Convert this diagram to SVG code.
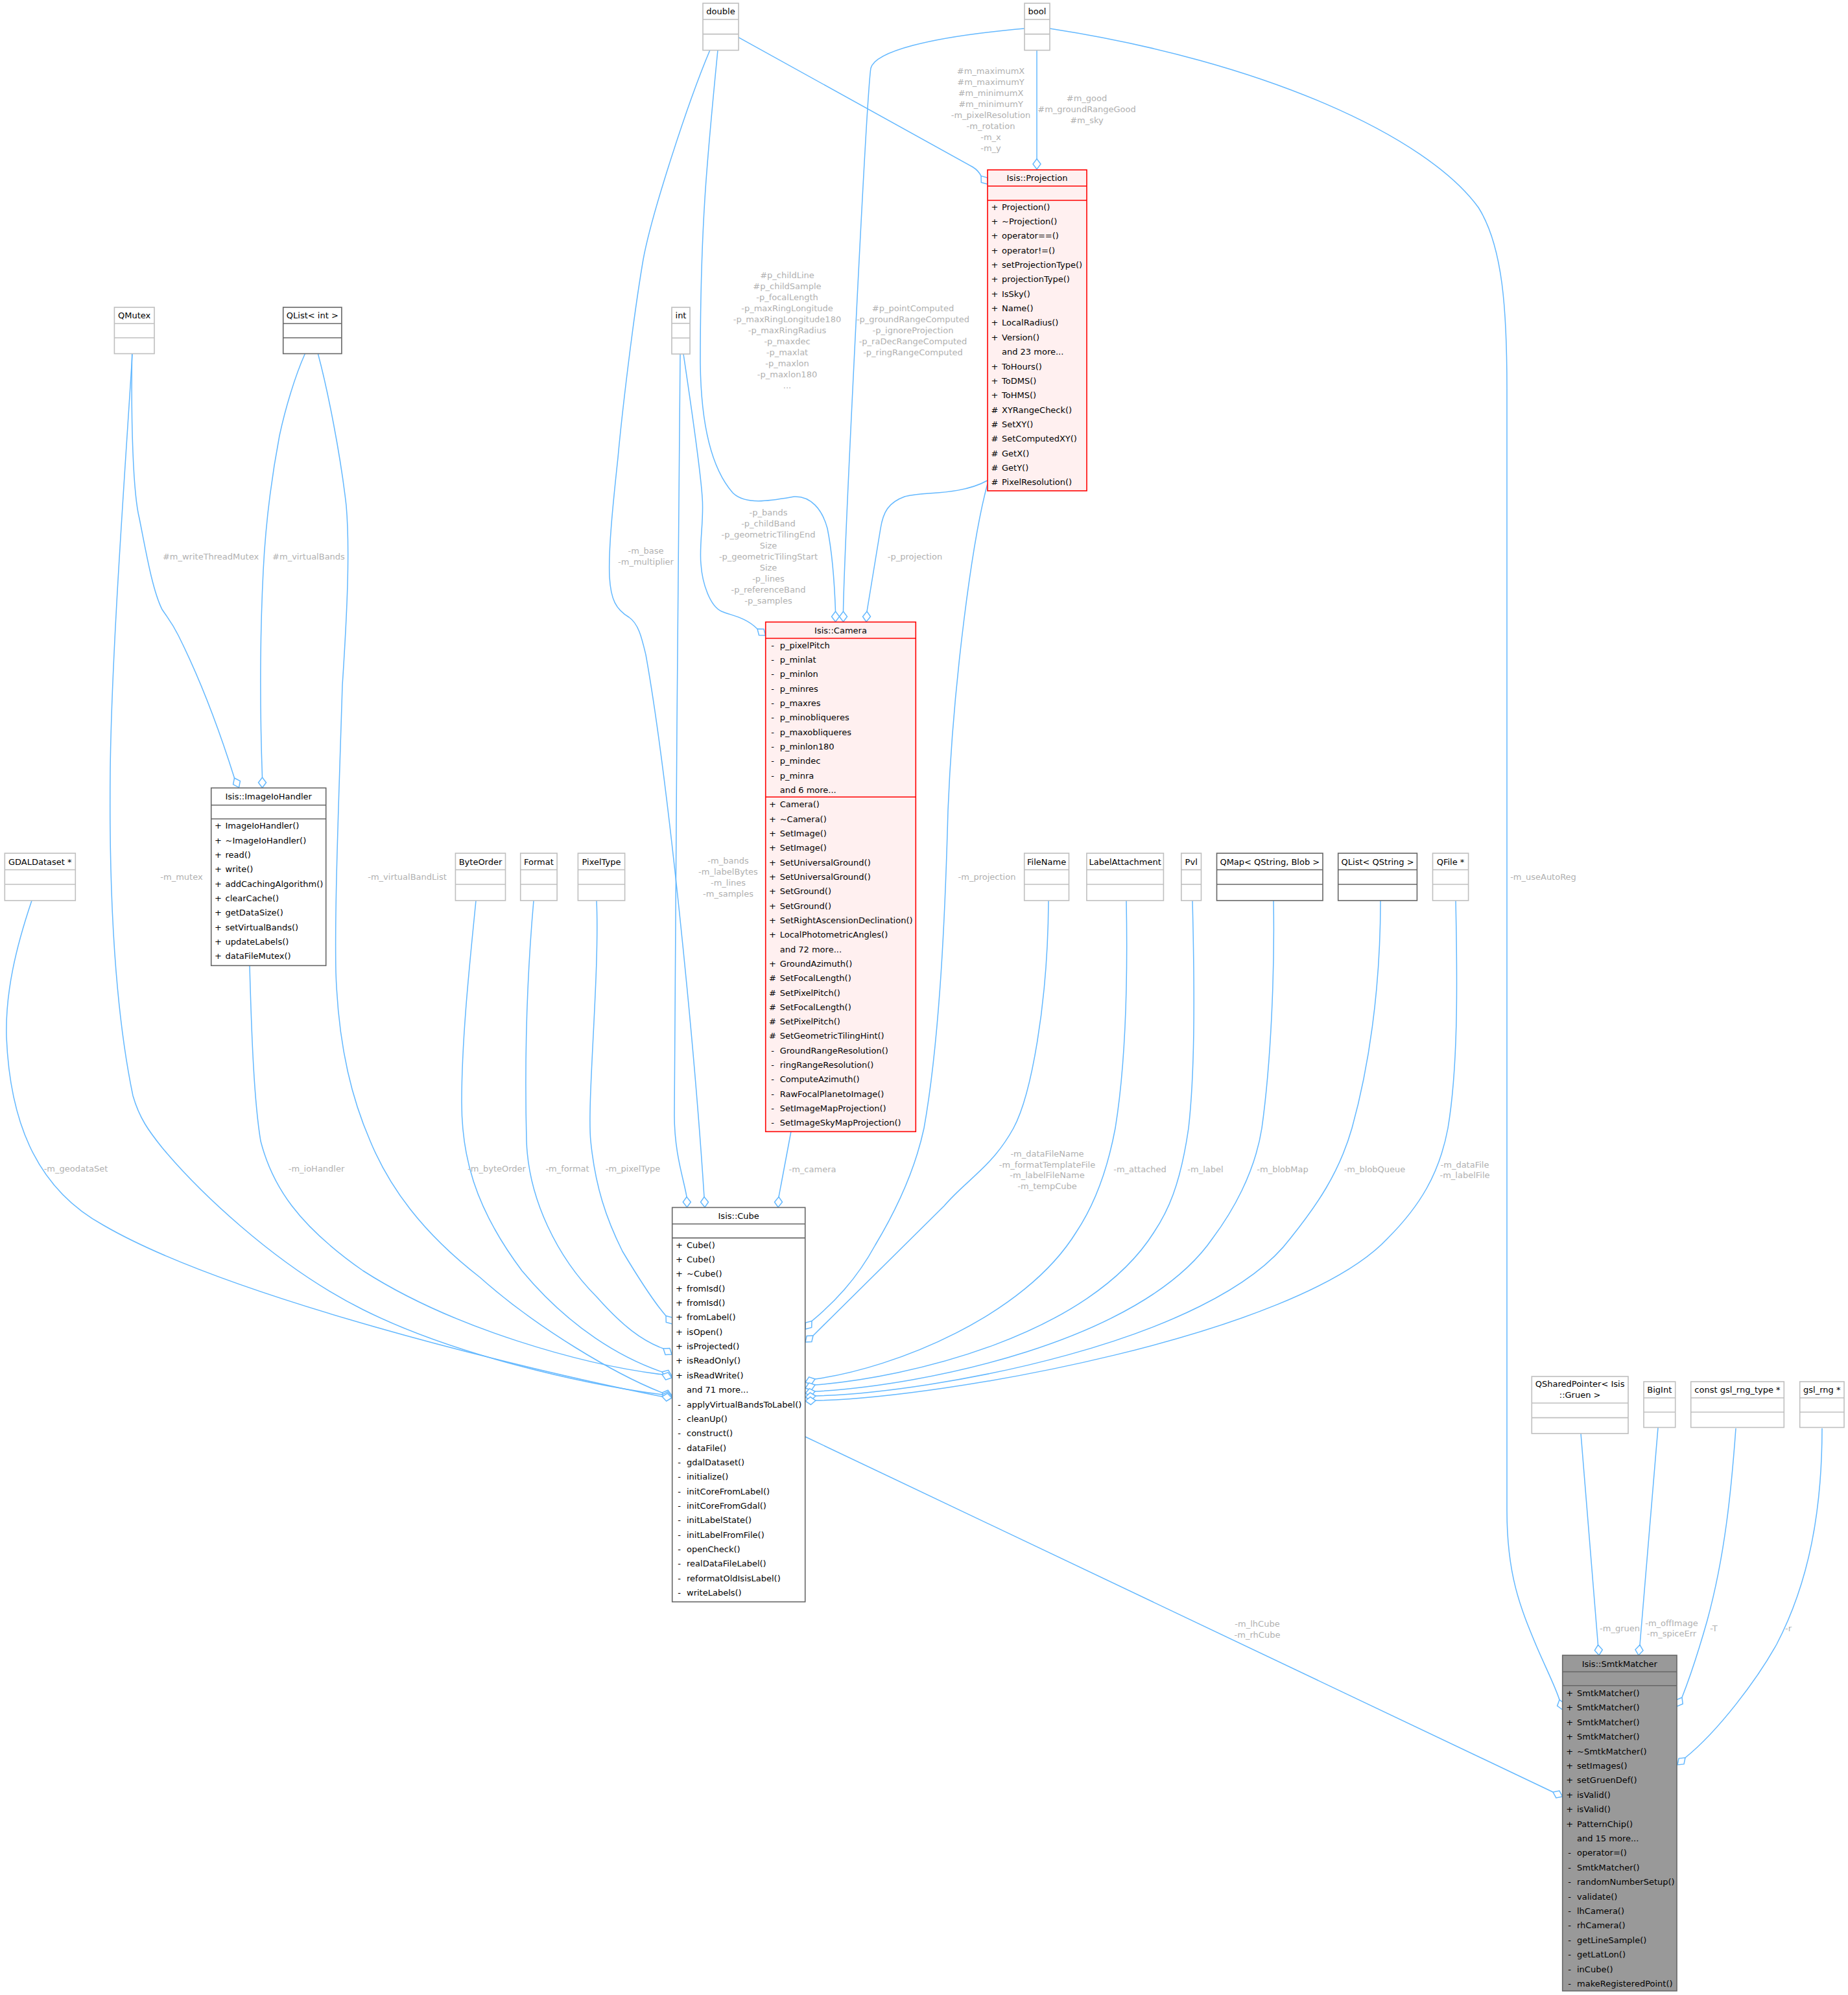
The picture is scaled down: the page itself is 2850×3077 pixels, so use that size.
<svg xmlns="http://www.w3.org/2000/svg" width="2850" height="3077" viewBox="0 0 2850 3077">
<style>
text{font-family:"DejaVu Sans","Liberation Sans",sans-serif;font-size:13px;fill:#000}
.box{fill:#fff;stroke:#bfbfbf;stroke-width:1.6}
.sep{stroke:#bfbfbf;stroke-width:1.6}
.dk .box,.dk .sep{stroke:#666}
.rd .box{fill:#fff0f0;stroke:#f00}
.rd .sep{stroke:#f00}
.gy .box{fill:#999;stroke:#666}
.gy .sep{stroke:#666}
.c{text-anchor:middle}
.e path{fill:none;stroke:#63b8ff;stroke-width:1.5}
.e polygon{fill:#fff;stroke:#63b8ff;stroke-width:1.5}
.l text{fill:#b0b0b0;text-anchor:middle}
</style>
<rect width="2850" height="3077" fill="#fff"/>
<g id="connectors" class="e">
<!-- double -> Projection -->
<path d="M1138.5,57.3 L1500,257.5 Q1509,263 1513,271.4"/>
<polygon points="1523,284 1513.3,281.4 1513,271.4 1522.7,274"/>
<!-- bool -> Projection -->
<path d="M1599,77 L1599,245"/>
<polygon points="1599,261 1593,253 1599,245 1605,253"/>
<!-- bool -> Camera -->
<path d="M1580,44 C1430,57 1350,80 1343,105 C1336,150 1302,850 1300.5,943"/>
<polygon points="1300.5,959 1294.5,951 1300.5,943 1306.5,951"/>
<!-- double -> Camera -->
<path d="M1107,77 C1090,250 1080,350 1080,560 C1081,650 1095,720 1130,760 C1150,780 1190,772 1225,766 C1250,765 1268,785 1276,815 C1283,850 1287,900 1288.5,943"/>
<polygon points="1288.5,959 1282.5,951 1288.5,943 1294.5,951"/>
<!-- int -> Camera -->
<path d="M1054,546 C1065,620 1080,720 1083,767 C1086,800 1078,840 1081,870 C1083,900 1095,935 1113,943 C1130,950 1150,952 1168,970"/>
<polygon points="1180.5,980 1170.5,979.7 1168,970 1178,970.3"/>
<!-- Projection -> Camera -->
<path d="M1523,741 C1480,765 1420,758 1395,766 C1370,775 1362,790 1358,815 L1337,943"/>
<polygon points="1336,959 1330.5,951 1337,943 1342.5,951"/>
<!-- double -> Cube -->
<path d="M1095,77 C1060,160 1005,330 992,400 C975,500 958,650 953,706 C945,780 938,850 940,890 C942,925 950,940 970,952 C985,962 990,985 996,1010 C1030,1200 1070,1600 1086,1846"/>
<polygon points="1087,1862 1080.5,1854 1086,1846 1092.5,1854"/>
<!-- int -> Cube -->
<path d="M1049,546 C1047,800 1040,1500 1040,1720 C1040,1780 1055,1820 1059,1846"/>
<polygon points="1059.5,1862 1053.3,1854 1059,1846 1065.3,1854"/>
<!-- Camera -> Cube -->
<path d="M1220,1745 L1201,1846"/>
<polygon points="1200,1862 1194.5,1854 1201,1846 1206.5,1854"/>
<!-- Projection -> Cube -->
<path d="M1523,746 C1500,830 1470,1050 1462,1250 C1458,1400 1450,1600 1425,1740 C1410,1810 1380,1870 1350,1920 C1320,1975 1285,2010 1252,2037.5"/>
<polygon points="1242,2050 1242.3,2040 1252,2037.5 1251.7,2047.5"/>
<!-- FileName -> Cube -->
<path d="M1617,1389 C1616,1550 1590,1690 1563,1740 C1530,1800 1490,1820 1456,1860 L1254,2060"/>
<polygon points="1242,2070 1244.2,2060.4 1254,2060 1251.8,2069.6"/>
<!-- LabelAttachment -> Cube -->
<path d="M1737,1389 C1740,1550 1733,1660 1720,1740 C1705,1820 1680,1870 1660,1900 C1580,2030 1380,2110 1257,2127"/>
<polygon points="1242,2132 1247.6,2123.8 1257,2127 1251.4,2135.2"/>
<!-- Pvl -> Cube -->
<path d="M1839,1389 C1843,1550 1842,1660 1833,1740 C1820,1830 1800,1870 1780,1900 C1680,2060 1400,2125 1257,2136"/>
<polygon points="1242,2141 1247.6,2132.8 1257,2136 1251.4,2144.2"/>
<!-- QMap -> Cube -->
<path d="M1964,1389 C1966,1500 1960,1640 1946,1740 C1935,1810 1900,1870 1870,1910 C1760,2070 1420,2138 1257,2146"/>
<polygon points="1242,2149 1248.3,2141.6 1257,2146 1250.7,2153.4"/>
<!-- QList<QString> -> Cube -->
<path d="M2129,1389 C2129,1530 2110,1650 2085,1740 C2065,1810 2030,1860 1990,1910 C1870,2070 1440,2148 1258,2153"/>
<polygon points="1242,2155 1249.3,2148 1258,2153 1250.7,2160"/>
<!-- QFile -> Cube -->
<path d="M2245,1389 C2248,1530 2248,1650 2233,1740 C2220,1810 2190,1860 2140,1910 C2000,2060 1450,2157 1258,2160"/>
<polygon points="1242,2161 1249.6,2154.5 1258,2160 1250.4,2166.5"/>
<!-- PixelType -> Cube -->
<path d="M920,1389 C925,1500 905,1700 911,1760 C918,1830 935,1880 960,1930 C990,1980 1010,2010 1027,2029.5"/>
<polygon points="1037,2042 1027.3,2039.5 1027,2029.5 1036.7,2032"/>
<!-- Format -> Cube -->
<path d="M823,1389 C815,1480 808,1600 812,1760 C815,1850 860,1940 920,2000 C960,2045 990,2068 1023,2080"/>
<polygon points="1036,2089 1026.1,2089.4 1023,2080 1032.9,2079.6"/>
<!-- ByteOrder -> Cube -->
<path d="M734,1389 C725,1480 712,1600 712,1700 C712,1780 730,1860 805,1960 C880,2050 960,2095 1021,2116"/>
<polygon points="1036,2122 1026.3,2124.6 1021,2116 1030.7,2113.4"/>
<!-- ImageIoHandler -> Cube -->
<path d="M385,1489 C388,1600 392,1700 402,1760 C420,1830 460,1890 560,1960 C700,2050 900,2105 1021,2120"/>
<polygon points="1036,2125 1026.6,2128.2 1021,2120 1030.4,2116.8"/>
<!-- QList<int> -> Cube -->
<path d="M490.5,546 C505,600 525,700 534,780 C540,850 535,950 528,1057 C522,1250 516,1400 518,1500 C522,1620 545,1700 571,1760 C600,1830 650,1900 740,1970 C830,2050 950,2120 1021,2148"/>
<polygon points="1036,2152 1027,2155.8 1021,2148 1030,2144.2"/>
<!-- QMutex -> Cube -->
<path d="M204,546 C195,700 172,1000 170,1190 C168,1380 178,1560 205,1690 C215,1725 230,1745 250,1770 C300,1830 420,1950 560,2020 C700,2090 900,2135 1021,2151"/>
<polygon points="1036,2154 1027.3,2158.4 1021,2151 1029.7,2146.6"/>
<!-- GDALDataset -> Cube -->
<path d="M49,1389 C25,1460 8,1530 10,1600 C15,1720 50,1830 160,1890 C350,2000 800,2110 1021,2154"/>
<polygon points="1036,2156 1027.7,2161 1021,2154 1029.3,2149"/>
<!-- QMutex -> ImageIoHandler -->
<path d="M203.6,546 C202,650 205,760 215,800 C225,850 235,910 250,940 C260,955 265,960 275,980 C300,1030 330,1100 361.5,1200"/>
<polygon points="368.5,1214.6 359.6,1209.9 361.5,1200 370.4,1204.7"/>
<!-- QList<int> -> ImageIoHandler -->
<path d="M470.2,546 C455,580 440,630 431,672 C420,730 410,800 406,880 C401,980 401,1100 404.5,1199"/>
<polygon points="404.5,1215 398.5,1207 404.5,1199 410.5,1207"/>
<!-- Cube -> SmtkMatcher -->
<path d="M1242,2216 L2395,2764"/>
<polygon points="2409.7,2771 2399.8,2772.9 2395,2764 2404.9,2762.1"/>
<!-- bool -> SmtkMatcher -->
<path d="M1619,44 C1950,95 2200,210 2280,320 C2318,380 2324,480 2324,600 L2324,2330 C2324,2430 2345,2480 2370,2540 C2385,2575 2398,2600 2405,2621.7"/>
<polygon points="2409.7,2637 2401.6,2631.1 2405,2621.7 2413.1,2627.6"/>
<!-- QSharedPointer -> SmtkMatcher -->
<path d="M2438,2211 L2464.5,2537"/>
<polygon points="2466,2553 2459.3,2545.5 2464.5,2537 2471.3,2544.5"/>
<!-- BigInt -> SmtkMatcher -->
<path d="M2557,2202 L2529,2537"/>
<polygon points="2527,2553 2522,2544.3 2529,2537 2534,2545.7"/>
<!-- const gsl_rng_type -> SmtkMatcher -->
<path d="M2677,2203 C2670,2300 2660,2400 2633,2499 C2620,2545 2605,2590 2594,2618"/>
<polygon points="2586,2632 2584.8,2622 2594,2618 2595.2,2628"/>
<!-- gsl_rng -> SmtkMatcher -->
<path d="M2810,2203 C2810,2330 2790,2440 2740,2536 C2710,2590 2650,2670 2599,2711"/>
<polygon points="2587,2722 2589,2712.1 2599,2711 2597,2720.9"/>
</g>
<g id="labels" class="l">
<text x="1528" y="114">#m_maximumX</text><text x="1528" y="131">#m_maximumY</text><text x="1528" y="148">#m_minimumX</text><text x="1528" y="165">#m_minimumY</text><text x="1528" y="182">-m_pixelResolution</text><text x="1528" y="199">-m_rotation</text><text x="1528" y="216">-m_x</text><text x="1528" y="233">-m_y</text>
<text x="1676" y="156">#m_good</text><text x="1676" y="173">#m_groundRangeGood</text><text x="1676" y="190">#m_sky</text>
<text x="1214" y="429">#p_childLine</text><text x="1214" y="446">#p_childSample</text><text x="1214" y="463">-p_focalLength</text><text x="1214" y="480">-p_maxRingLongitude</text><text x="1214" y="497">-p_maxRingLongitude180</text><text x="1214" y="514">-p_maxRingRadius</text><text x="1214" y="531">-p_maxdec</text><text x="1214" y="548">-p_maxlat</text><text x="1214" y="565">-p_maxlon</text><text x="1214" y="582">-p_maxlon180</text><text x="1214" y="599">...</text>
<text x="1408" y="480">#p_pointComputed</text><text x="1408" y="497">-p_groundRangeComputed</text><text x="1408" y="514">-p_ignoreProjection</text><text x="1408" y="531">-p_raDecRangeComputed</text><text x="1408" y="548">-p_ringRangeComputed</text>
<text x="1185" y="795">-p_bands</text><text x="1185" y="812">-p_childBand</text><text x="1185" y="829">-p_geometricTilingEnd</text><text x="1185" y="846">Size</text><text x="1185" y="863">-p_geometricTilingStart</text><text x="1185" y="880">Size</text><text x="1185" y="897">-p_lines</text><text x="1185" y="914">-p_referenceBand</text><text x="1185" y="931">-p_samples</text>
<text x="1411" y="863">-p_projection</text>
<text x="996" y="854">-m_base</text><text x="996" y="871">-m_multiplier</text>
<text x="325" y="863">#m_writeThreadMutex</text>
<text x="476" y="863">#m_virtualBands</text>
<text x="280" y="1357">-m_mutex</text>
<text x="628" y="1357">-m_virtualBandList</text>
<text x="1123" y="1332">-m_bands</text><text x="1123" y="1349">-m_labelBytes</text><text x="1123" y="1366">-m_lines</text><text x="1123" y="1383">-m_samples</text>
<text x="1522" y="1357">-m_projection</text>
<text x="2380" y="1357">-m_useAutoReg</text>
<text x="117" y="1807">-m_geodataSet</text>
<text x="488" y="1807">-m_ioHandler</text>
<text x="766" y="1807">-m_byteOrder</text>
<text x="875" y="1807">-m_format</text>
<text x="976" y="1807">-m_pixelType</text>
<text x="1253" y="1808">-m_camera</text>
<text x="1615" y="1784">-m_dataFileName</text><text x="1615" y="1801">-m_formatTemplateFile</text><text x="1615" y="1817">-m_labelFileName</text><text x="1615" y="1834">-m_tempCube</text>
<text x="1758" y="1808">-m_attached</text>
<text x="1859" y="1808">-m_label</text>
<text x="1978" y="1808">-m_blobMap</text>
<text x="2120" y="1808">-m_blobQueue</text>
<text x="2259" y="1801">-m_dataFile</text><text x="2259" y="1817">-m_labelFile</text>
<text x="1939" y="2509">-m_lhCube</text><text x="1939" y="2526">-m_rhCube</text>
<text x="2498" y="2516">-m_gruen</text>
<text x="2578" y="2508">-m_offImage</text><text x="2578" y="2524">-m_spiceErr</text>
<text x="2643" y="2516">-T</text>
<text x="2758" y="2516">-r</text>
</g>
<g id="double"><rect class="box" x="1084" y="5" width="55" height="72.5"/><line class="sep" x1="1084" y1="30" x2="1139" y2="30"/><line class="sep" x1="1084" y1="52.6" x2="1139" y2="52.6"/><text class="c" x="1111.5" y="22">double</text></g>
<g id="bool"><rect class="box" x="1580" y="5" width="39" height="72.5"/><line class="sep" x1="1580" y1="30" x2="1619" y2="30"/><line class="sep" x1="1580" y1="52.6" x2="1619" y2="52.6"/><text class="c" x="1599.5" y="22">bool</text></g>
<g id="QMutex"><rect class="box" x="176.4" y="474" width="61.6" height="71.5"/><line class="sep" x1="176.4" y1="499" x2="238" y2="499"/><line class="sep" x1="176.4" y1="521" x2="238" y2="521"/><text class="c" x="207.2" y="491">QMutex</text></g>
<g id="QList_int" class="dk"><rect class="box" x="436.7" y="474" width="90.2" height="71.5"/><line class="sep" x1="436.7" y1="499" x2="526.9" y2="499"/><line class="sep" x1="436.7" y1="521" x2="526.9" y2="521"/><text class="c" x="481.8" y="491">QList&lt; int &gt;</text></g>
<g id="int"><rect class="box" x="1036" y="474" width="28" height="72"/><line class="sep" x1="1036" y1="498.7" x2="1064" y2="498.7"/><line class="sep" x1="1036" y1="521.3" x2="1064" y2="521.3"/><text class="c" x="1050" y="491">int</text></g>
<g id="GDALDataset"><rect class="box" x="7.3" y="1316" width="109" height="73"/><line class="sep" x1="7.3" y1="1341.5" x2="116.3" y2="1341.5"/><line class="sep" x1="7.3" y1="1364" x2="116.3" y2="1364"/><text class="c" x="61.8" y="1333.5">GDALDataset *</text></g>
<g id="ByteOrder"><rect class="box" x="702.4" y="1316" width="77.1" height="73"/><line class="sep" x1="702.4" y1="1341.5" x2="779.5" y2="1341.5"/><line class="sep" x1="702.4" y1="1364" x2="779.5" y2="1364"/><text class="c" x="741" y="1333.5">ByteOrder</text></g>
<g id="Format"><rect class="box" x="802.7" y="1316" width="56.4" height="73"/><line class="sep" x1="802.7" y1="1341.5" x2="859.1" y2="1341.5"/><line class="sep" x1="802.7" y1="1364" x2="859.1" y2="1364"/><text class="c" x="830.9" y="1333.5">Format</text></g>
<g id="PixelType"><rect class="box" x="891.4" y="1316" width="72.2" height="73"/><line class="sep" x1="891.4" y1="1341.5" x2="963.6" y2="1341.5"/><line class="sep" x1="891.4" y1="1364" x2="963.6" y2="1364"/><text class="c" x="927.5" y="1333.5">PixelType</text></g>
<g id="FileName"><rect class="box" x="1579.7" y="1316" width="68.8" height="73"/><line class="sep" x1="1579.7" y1="1341.5" x2="1648.5" y2="1341.5"/><line class="sep" x1="1579.7" y1="1364" x2="1648.5" y2="1364"/><text class="c" x="1614.1" y="1333.5">FileName</text></g>
<g id="LabelAttachment"><rect class="box" x="1675.9" y="1316" width="118.5" height="73"/><line class="sep" x1="1675.9" y1="1341.5" x2="1794.4" y2="1341.5"/><line class="sep" x1="1675.9" y1="1364" x2="1794.4" y2="1364"/><text class="c" x="1735.2" y="1333.5">LabelAttachment</text></g>
<g id="Pvl"><rect class="box" x="1821.8" y="1316" width="30.7" height="73"/><line class="sep" x1="1821.8" y1="1341.5" x2="1852.5" y2="1341.5"/><line class="sep" x1="1821.8" y1="1364" x2="1852.5" y2="1364"/><text class="c" x="1837.2" y="1333.5">Pvl</text></g>
<g id="QMap" class="dk"><rect class="box" x="1876.5" y="1316" width="163.5" height="73"/><line class="sep" x1="1876.5" y1="1341.5" x2="2040" y2="1341.5"/><line class="sep" x1="1876.5" y1="1364" x2="2040" y2="1364"/><text class="c" x="1958.3" y="1333.5">QMap&lt; QString, Blob &gt;</text></g>
<g id="QList_QString" class="dk"><rect class="box" x="2063.7" y="1316" width="121.7" height="73"/><line class="sep" x1="2063.7" y1="1341.5" x2="2185.4" y2="1341.5"/><line class="sep" x1="2063.7" y1="1364" x2="2185.4" y2="1364"/><text class="c" x="2124.6" y="1333.5">QList&lt; QString &gt;</text></g>
<g id="QFile"><rect class="box" x="2209.5" y="1316" width="55.1" height="73"/><line class="sep" x1="2209.5" y1="1341.5" x2="2264.6" y2="1341.5"/><line class="sep" x1="2209.5" y1="1364" x2="2264.6" y2="1364"/><text class="c" x="2237" y="1333.5">QFile *</text></g>
<g id="QSharedPointer"><rect class="box" x="2362.3" y="2123" width="148.7" height="88"/><line class="sep" x1="2362.3" y1="2164" x2="2511" y2="2164"/><line class="sep" x1="2362.3" y1="2186.6" x2="2511" y2="2186.6"/><text class="c" x="2436.6" y="2139">QSharedPointer&lt; Isis</text><text class="c" x="2436.6" y="2156.4">::Gruen &gt;</text></g>
<g id="BigInt"><rect class="box" x="2535" y="2131" width="48.7" height="70.6"/><line class="sep" x1="2535" y1="2156" x2="2583.7" y2="2156"/><line class="sep" x1="2535" y1="2178" x2="2583.7" y2="2178"/><text class="c" x="2559.3" y="2148">BigInt</text></g>
<g id="gsl_rng_type"><rect class="box" x="2607.7" y="2131" width="143.6" height="70.6"/><line class="sep" x1="2607.7" y1="2156" x2="2751.3" y2="2156"/><line class="sep" x1="2607.7" y1="2178" x2="2751.3" y2="2178"/><text class="c" x="2679.5" y="2148">const gsl_rng_type *</text></g>
<g id="gsl_rng"><rect class="box" x="2775.7" y="2131" width="68.3" height="70.6"/><line class="sep" x1="2775.7" y1="2156" x2="2844" y2="2156"/><line class="sep" x1="2775.7" y1="2178" x2="2844" y2="2178"/><text class="c" x="2809.8" y="2148">gsl_rng *</text></g>
<g id="Projection" class="rd"><rect class="box" x="1523" y="262" width="153" height="495"/><line class="sep" x1="1523" y1="287" x2="1676" y2="287"/><line class="sep" x1="1523" y1="309" x2="1676" y2="309"/>
<text class="c" x="1599.5" y="279">Isis::Projection</text>
<g class="c"><text x="1534" y="323.5">+</text><text x="1534" y="345.9">+</text><text x="1534" y="368.2">+</text><text x="1534" y="390.6">+</text><text x="1534" y="412.9">+</text><text x="1534" y="435.3">+</text><text x="1534" y="457.7">+</text><text x="1534" y="480">+</text><text x="1534" y="502.4">+</text><text x="1534" y="524.7">+</text><text x="1534" y="569.5">+</text><text x="1534" y="591.8">+</text><text x="1534" y="614.2">+</text><text x="1534" y="636.5">#</text><text x="1534" y="658.9">#</text><text x="1534" y="681.3">#</text><text x="1534" y="703.6">#</text><text x="1534" y="726">#</text><text x="1534" y="748.3">#</text></g>
<text x="1545" y="323.5">Projection()</text><text x="1545" y="345.9">~Projection()</text><text x="1545" y="368.2">operator==()</text><text x="1545" y="390.6">operator!=()</text><text x="1545" y="412.9">setProjectionType()</text><text x="1545" y="435.3">projectionType()</text><text x="1545" y="457.7">IsSky()</text><text x="1545" y="480">Name()</text><text x="1545" y="502.4">LocalRadius()</text><text x="1545" y="524.7">Version()</text><text x="1545" y="547.1">and 23 more...</text><text x="1545" y="569.5">ToHours()</text><text x="1545" y="591.8">ToDMS()</text><text x="1545" y="614.2">ToHMS()</text><text x="1545" y="636.5">XYRangeCheck()</text><text x="1545" y="658.9">SetXY()</text><text x="1545" y="681.3">SetComputedXY()</text><text x="1545" y="703.6">GetX()</text><text x="1545" y="726">GetY()</text><text x="1545" y="748.3">PixelResolution()</text>
</g>
<g id="Camera" class="rd"><rect class="box" x="1180.7" y="959.4" width="231.6" height="786"/><line class="sep" x1="1180.7" y1="984.5" x2="1412.3" y2="984.5"/><line class="sep" x1="1180.7" y1="1229.2" x2="1412.3" y2="1229.2"/>
<text class="c" x="1296.5" y="976.5">Isis::Camera</text>
<g class="c"><text x="1191.5" y="999.5">-</text><text x="1191.5" y="1021.8">-</text><text x="1191.5" y="1044.2">-</text><text x="1191.5" y="1066.5">-</text><text x="1191.5" y="1088.8">-</text><text x="1191.5" y="1111.2">-</text><text x="1191.5" y="1133.5">-</text><text x="1191.5" y="1155.8">-</text><text x="1191.5" y="1178.1">-</text><text x="1191.5" y="1200.5">-</text>
<text x="1191.5" y="1245.3">+</text><text x="1191.5" y="1267.6">+</text><text x="1191.5" y="1289.9">+</text><text x="1191.5" y="1312.3">+</text><text x="1191.5" y="1334.6">+</text><text x="1191.5" y="1356.9">+</text><text x="1191.5" y="1379.2">+</text><text x="1191.5" y="1401.5">+</text><text x="1191.5" y="1423.9">+</text><text x="1191.5" y="1446.2">+</text><text x="1191.5" y="1490.8">+</text><text x="1191.5" y="1513.1">#</text><text x="1191.5" y="1535.5">#</text><text x="1191.5" y="1557.8">#</text><text x="1191.5" y="1580.1">#</text><text x="1191.5" y="1602.4">#</text><text x="1191.5" y="1624.7">-</text><text x="1191.5" y="1647.1">-</text><text x="1191.5" y="1669.4">-</text><text x="1191.5" y="1691.7">-</text><text x="1191.5" y="1714">-</text><text x="1191.5" y="1736.3">-</text></g>
<text x="1202.7" y="999.5">p_pixelPitch</text><text x="1202.7" y="1021.8">p_minlat</text><text x="1202.7" y="1044.2">p_minlon</text><text x="1202.7" y="1066.5">p_minres</text><text x="1202.7" y="1088.8">p_maxres</text><text x="1202.7" y="1111.2">p_minobliqueres</text><text x="1202.7" y="1133.5">p_maxobliqueres</text><text x="1202.7" y="1155.8">p_minlon180</text><text x="1202.7" y="1178.1">p_mindec</text><text x="1202.7" y="1200.5">p_minra</text><text x="1202.7" y="1222.8">and 6 more...</text>
<text x="1202.7" y="1245.3">Camera()</text><text x="1202.7" y="1267.6">~Camera()</text><text x="1202.7" y="1289.9">SetImage()</text><text x="1202.7" y="1312.3">SetImage()</text><text x="1202.7" y="1334.6">SetUniversalGround()</text><text x="1202.7" y="1356.9">SetUniversalGround()</text><text x="1202.7" y="1379.2">SetGround()</text><text x="1202.7" y="1401.5">SetGround()</text><text x="1202.7" y="1423.9">SetRightAscensionDeclination()</text><text x="1202.7" y="1446.2">LocalPhotometricAngles()</text><text x="1202.7" y="1468.5">and 72 more...</text><text x="1202.7" y="1490.8">GroundAzimuth()</text><text x="1202.7" y="1513.1">SetFocalLength()</text><text x="1202.7" y="1535.5">SetPixelPitch()</text><text x="1202.7" y="1557.8">SetFocalLength()</text><text x="1202.7" y="1580.1">SetPixelPitch()</text><text x="1202.7" y="1602.4">SetGeometricTilingHint()</text><text x="1202.7" y="1624.7">GroundRangeResolution()</text><text x="1202.7" y="1647.1">ringRangeResolution()</text><text x="1202.7" y="1669.4">ComputeAzimuth()</text><text x="1202.7" y="1691.7">RawFocalPlanetoImage()</text><text x="1202.7" y="1714">SetImageMapProjection()</text><text x="1202.7" y="1736.3">SetImageSkyMapProjection()</text>
</g>
<g id="ImageIoHandler" class="dk"><rect class="box" x="325.7" y="1215.3" width="177" height="274"/><line class="sep" x1="325.7" y1="1241.8" x2="502.7" y2="1241.8"/><line class="sep" x1="325.7" y1="1263" x2="502.7" y2="1263"/>
<text class="c" x="414.2" y="1233">Isis::ImageIoHandler</text>
<g class="c"><text x="336.4" y="1278.3">+</text><text x="336.4" y="1300.6">+</text><text x="336.4" y="1322.9">+</text><text x="336.4" y="1345.3">+</text><text x="336.4" y="1367.6">+</text><text x="336.4" y="1389.9">+</text><text x="336.4" y="1412.2">+</text><text x="336.4" y="1434.5">+</text><text x="336.4" y="1456.9">+</text><text x="336.4" y="1479.2">+</text></g>
<text x="347.5" y="1278.3">ImageIoHandler()</text><text x="347.5" y="1300.6">~ImageIoHandler()</text><text x="347.5" y="1322.9">read()</text><text x="347.5" y="1345.3">write()</text><text x="347.5" y="1367.6">addCachingAlgorithm()</text><text x="347.5" y="1389.9">clearCache()</text><text x="347.5" y="1412.2">getDataSize()</text><text x="347.5" y="1434.5">setVirtualBands()</text><text x="347.5" y="1456.9">updateLabels()</text><text x="347.5" y="1479.2">dataFileMutex()</text>
</g>
<g id="Cube" class="dk"><rect class="box" x="1036.7" y="1862.4" width="205" height="608.2"/><line class="sep" x1="1036.7" y1="1887.8" x2="1241.7" y2="1887.8"/><line class="sep" x1="1036.7" y1="1909.4" x2="1241.7" y2="1909.4"/>
<text class="c" x="1139.2" y="1880">Isis::Cube</text>
<g class="c"><text x="1047.5" y="1924.6">+</text><text x="1047.5" y="1947">+</text><text x="1047.5" y="1969.3">+</text><text x="1047.5" y="1991.7">+</text><text x="1047.5" y="2014">+</text><text x="1047.5" y="2036.4">+</text><text x="1047.5" y="2058.7">+</text><text x="1047.5" y="2081.1">+</text><text x="1047.5" y="2103.4">+</text><text x="1047.5" y="2125.8">+</text><text x="1047.5" y="2170.5">-</text><text x="1047.5" y="2192.8">-</text><text x="1047.5" y="2215.2">-</text><text x="1047.5" y="2237.5">-</text><text x="1047.5" y="2259.9">-</text><text x="1047.5" y="2282.2">-</text><text x="1047.5" y="2304.6">-</text><text x="1047.5" y="2326.9">-</text><text x="1047.5" y="2349.3">-</text><text x="1047.5" y="2371.6">-</text><text x="1047.5" y="2394">-</text><text x="1047.5" y="2416.3">-</text><text x="1047.5" y="2438.7">-</text><text x="1047.5" y="2461">-</text></g>
<text x="1059" y="1924.6">Cube()</text><text x="1059" y="1947">Cube()</text><text x="1059" y="1969.3">~Cube()</text><text x="1059" y="1991.7">fromIsd()</text><text x="1059" y="2014">fromIsd()</text><text x="1059" y="2036.4">fromLabel()</text><text x="1059" y="2058.7">isOpen()</text><text x="1059" y="2081.1">isProjected()</text><text x="1059" y="2103.4">isReadOnly()</text><text x="1059" y="2125.8">isReadWrite()</text><text x="1059" y="2148.1">and 71 more...</text><text x="1059" y="2170.5">applyVirtualBandsToLabel()</text><text x="1059" y="2192.8">cleanUp()</text><text x="1059" y="2215.2">construct()</text><text x="1059" y="2237.5">dataFile()</text><text x="1059" y="2259.9">gdalDataset()</text><text x="1059" y="2282.2">initialize()</text><text x="1059" y="2304.6">initCoreFromLabel()</text><text x="1059" y="2326.9">initCoreFromGdal()</text><text x="1059" y="2349.3">initLabelState()</text><text x="1059" y="2371.6">initLabelFromFile()</text><text x="1059" y="2394">openCheck()</text><text x="1059" y="2416.3">realDataFileLabel()</text><text x="1059" y="2438.7">reformatOldIsisLabel()</text><text x="1059" y="2461">writeLabels()</text>
</g>
<g id="SmtkMatcher" class="gy"><rect class="box" x="2409.7" y="2553" width="176.3" height="517.7"/><line class="sep" x1="2409.7" y1="2578.5" x2="2586" y2="2578.5"/><line class="sep" x1="2409.7" y1="2599.7" x2="2586" y2="2599.7"/>
<text class="c" x="2497.8" y="2570.5">Isis::SmtkMatcher</text>
<g class="c"><text x="2420.7" y="2615.9">+</text><text x="2420.7" y="2638.3">+</text><text x="2420.7" y="2660.7">+</text><text x="2420.7" y="2683.1">+</text><text x="2420.7" y="2705.5">+</text><text x="2420.7" y="2727.9">+</text><text x="2420.7" y="2750.3">+</text><text x="2420.7" y="2772.7">+</text><text x="2420.7" y="2795.1">+</text><text x="2420.7" y="2817.5">+</text><text x="2420.7" y="2862.3">-</text><text x="2420.7" y="2884.7">-</text><text x="2420.7" y="2907.1">-</text><text x="2420.7" y="2929.5">-</text><text x="2420.7" y="2951.9">-</text><text x="2420.7" y="2974.3">-</text><text x="2420.7" y="2996.7">-</text><text x="2420.7" y="3019.1">-</text><text x="2420.7" y="3041.5">-</text><text x="2420.7" y="3063.9">-</text></g>
<text x="2432" y="2615.9">SmtkMatcher()</text><text x="2432" y="2638.3">SmtkMatcher()</text><text x="2432" y="2660.7">SmtkMatcher()</text><text x="2432" y="2683.1">SmtkMatcher()</text><text x="2432" y="2705.5">~SmtkMatcher()</text><text x="2432" y="2727.9">setImages()</text><text x="2432" y="2750.3">setGruenDef()</text><text x="2432" y="2772.7">isValid()</text><text x="2432" y="2795.1">isValid()</text><text x="2432" y="2817.5">PatternChip()</text><text x="2432" y="2839.9">and 15 more...</text><text x="2432" y="2862.3">operator=()</text><text x="2432" y="2884.7">SmtkMatcher()</text><text x="2432" y="2907.1">randomNumberSetup()</text><text x="2432" y="2929.5">validate()</text><text x="2432" y="2951.9">lhCamera()</text><text x="2432" y="2974.3">rhCamera()</text><text x="2432" y="2996.7">getLineSample()</text><text x="2432" y="3019.1">getLatLon()</text><text x="2432" y="3041.5">inCube()</text><text x="2432" y="3063.9">makeRegisteredPoint()</text>
</g>
</svg>
